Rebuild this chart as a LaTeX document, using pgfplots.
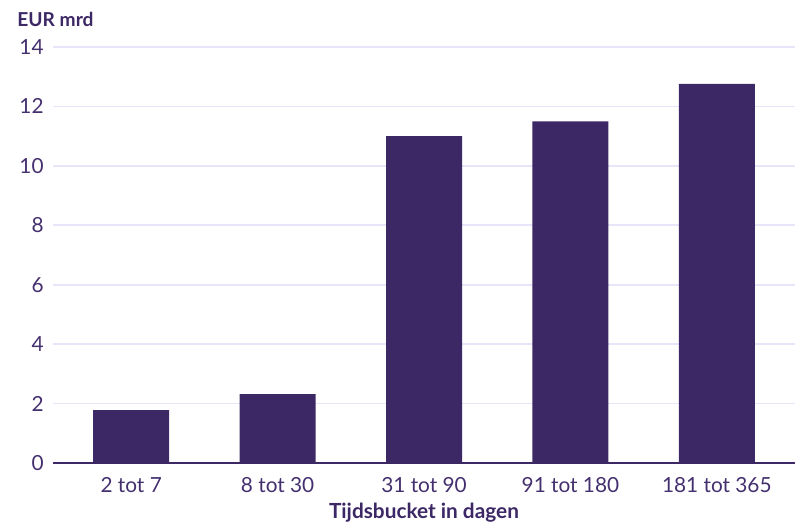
\documentclass[border=0pt]{standalone}
\usepackage{fontspec}
\setmainfont{Lato}
\usepackage{pgfplots}
\pgfplotsset{compat=1.18}
\definecolor{barpurple}{HTML}{3D2866}
\definecolor{textpurple}{HTML}{45306F}
\definecolor{gridlav}{HTML}{E8E4FA}
\begin{document}
\begin{tikzpicture}
\useasboundingbox (-26.5pt,-30.5pt) rectangle (371pt,231.5pt);
\begin{axis}[
  at={(0,0)}, anchor=south west,
  scale only axis, width=371pt, height=208pt,
  xmin=-0.534, xmax=4.534, ymin=0, ymax=14,
  ytick={0,2,...,14},
  ymajorgrids, grid style={gridlav, line width=0.9pt},
  axis line style={draw=none},
  major tick length=0pt,
  xtick={0,1,2,3,4},
  xticklabels={2 tot 7, 8 tot 30, 31 tot 90, 91 tot 180, 181 tot 365},
  tick label style={font=\fontsize{10.4}{12}\selectfont, text=textpurple},
  /pgf/number format/assume math mode=true,
  yticklabel style={anchor=east, inner sep=0pt, xshift=-4.5pt},
  xticklabel style={anchor=base, inner sep=0pt, yshift=-14.5pt},
  xlabel={Tijdsbucket in dagen},
  xlabel style={at={(rel axis cs:0.5,0)}, anchor=base, inner sep=0pt, yshift=-27.5pt,
    font=\fontsize{10.4}{12}\selectfont\bfseries, text=barpurple},
  clip=false,
]
\addplot[ybar, bar width=38pt, fill=barpurple, draw=none]
  coordinates {(0,1.78) (1,2.32) (2,11.0) (3,11.5) (4,12.76)};
\draw[barpurple, line width=1.3pt] (axis cs:-0.534,0) -- (axis cs:4.534,0);
\end{axis}
\node[anchor=base west, inner sep=0pt, text=barpurple,
  font=\fontsize{9.6}{11}\selectfont\bfseries] at (-18pt,218pt) {EUR mrd};
\end{tikzpicture}
\end{document}
